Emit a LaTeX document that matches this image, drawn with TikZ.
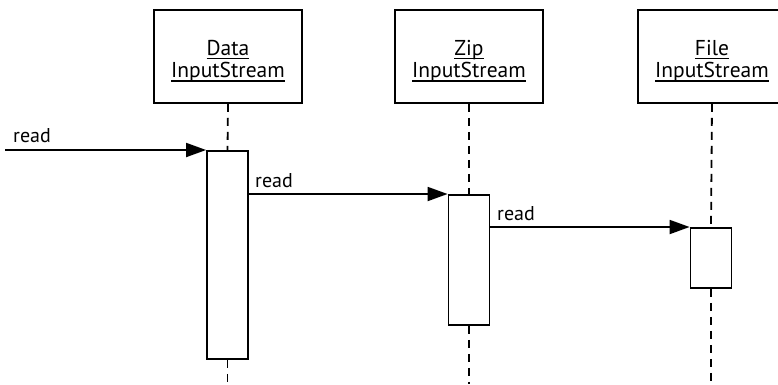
\documentclass[tikz,border=0pt]{standalone}
\usepackage{fontspec}
\setmainfont{PT Sans}
\usetikzlibrary{arrows.meta,positioning}

\newcommand{\objname}[1]{\setbox0=\hbox{#1}\rlap{\vrule width \wd0 height -2.6pt depth 4pt}\box0}

\begin{document}
\begin{tikzpicture}[x=1pt, y=-1pt,
    obj/.style={draw, line width=1.8pt, minimum width=148pt, minimum height=93pt,
        align=center, font=\fontsize{21.5}{22.5}\selectfont, inner sep=0pt},
    act/.style={draw, line width=1.8pt, fill=white, minimum width=41pt, inner sep=0pt},
    life/.style={line width=1.8pt, dash pattern=on 8pt off 6pt},
    msg/.style={-{Triangle[length=20pt,width=14pt]}, line width=1.8pt},
    lbl/.style={font=\fontsize{20}{22}\selectfont, inner sep=0pt, anchor=base west}]
    \useasboundingbox (0,0) rectangle (778,384);

    % Objects
    \node[obj] (data) at (228,56.5) {\rule{0pt}{24pt}\objname{Data}\\\objname{InputStream}};
    \node[obj] (zip)  at (469,56.5) {\rule{0pt}{24pt}\objname{Zip}\\\objname{InputStream}};
    \node[obj] (file) at (712,56.5) {\rule{0pt}{24pt}\objname{File}\\\objname{InputStream}};

    % Activations
    \node[act, minimum height=208pt, anchor=north] (dataAct) at (227.5,150) {};
    \node[act, minimum height=130pt, anchor=north] (zipAct)  at (469,194) {};
    \node[act, minimum height=60pt,  anchor=north] (fileAct) at (711,227) {};

    % Lifelines
    \foreach \o/\a in {data/dataAct, zip/zipAct, file/fileAct} {
        \draw[life] (\o.south) -- (\a.north);
        \draw[life] (\a.south) -- (\a.south |- 0,384);
    }

    % Messages
    \coordinate (caller) at (5,150);
    \draw[msg] (caller) -- (dataAct.north west);
    \draw[msg] (zipAct.north west -| dataAct.east) -- (zipAct.north west);
    \draw[msg] (fileAct.north west -| zipAct.east) -- (fileAct.north west);

    \node[lbl] (r1) at (13,142) {read};
    \node[lbl] (r2) at (255,187) {read};
    \node[lbl] (r3) at (497,220) {read};
\end{tikzpicture}
\end{document}
